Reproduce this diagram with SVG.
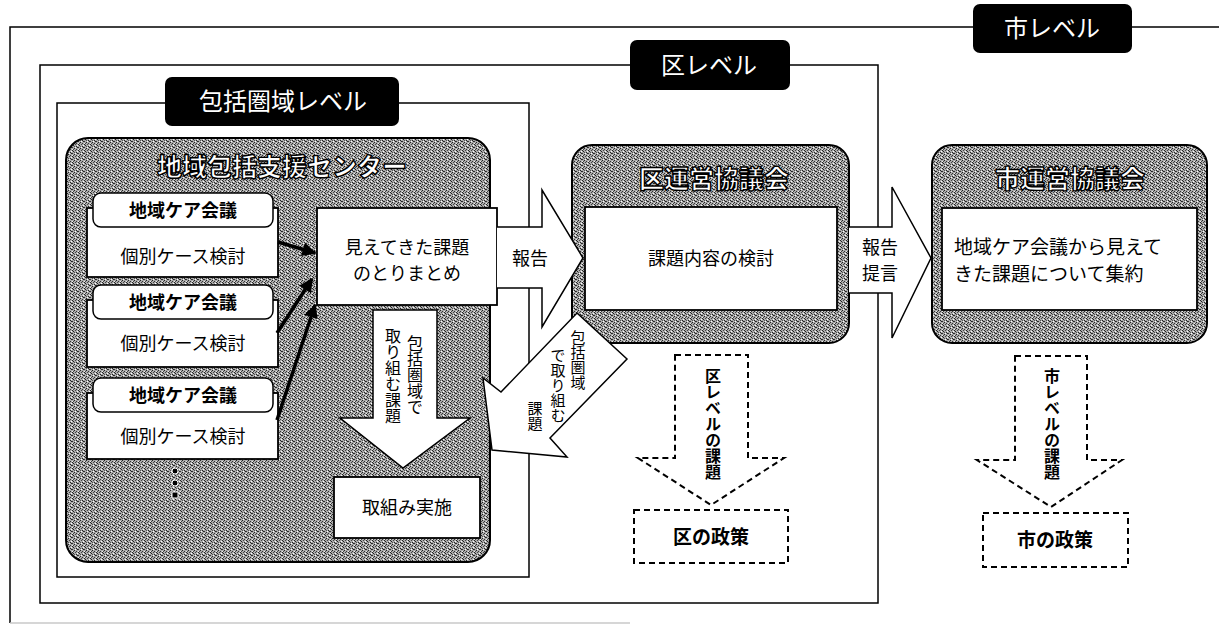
<svg xmlns="http://www.w3.org/2000/svg" width="1219" height="625" viewBox="0 0 1219 625">
<style>
text{font-family:"Noto Sans CJK JP","Noto Sans",sans-serif;fill:#000}
.frame{fill:none;stroke:#000;stroke-width:1.5}
.lbl{fill:#000}
.lbltxt{fill:#fff;font-size:24px;text-anchor:middle}
.shade{fill:url(#dither);stroke:#000;stroke-width:2}
.title{fill:#fff;stroke:#000;stroke-width:1.4;font-weight:900;font-size:25px;text-anchor:middle}
.box{fill:#fff;stroke:#000;stroke-width:1.8}
.hdr{fill:#fff;stroke:#000;stroke-width:1.5}
.t18{font-size:18px;text-anchor:middle}
.b18{font-size:18px;font-weight:bold;text-anchor:middle}
.arrowW{fill:#fff;stroke:#000;stroke-width:1.5;stroke-linejoin:miter}
.dash{fill:#fff;stroke:#000;stroke-width:2;stroke-dasharray:6 4}
.vt{writing-mode:vertical-rl;font-size:16px}
.vtb{writing-mode:vertical-rl;font-size:16px;font-weight:bold}
.con{stroke:#000;stroke-width:3.5;fill:none}
</style>
<defs>
<pattern id="dither" width="6" height="6" patternUnits="userSpaceOnUse">
<rect width="6" height="6" fill="#ababab"/>
<rect x="0" y="0" width="1" height="1" fill="#222"/>
<rect x="3" y="0" width="1" height="1" fill="#444"/>
<rect x="1" y="1" width="1" height="1" fill="#222"/>
<rect x="4" y="2" width="1" height="1" fill="#222"/>
<rect x="2" y="2" width="1" height="1" fill="#555"/>
<rect x="0" y="3" width="1" height="1" fill="#333"/>
<rect x="5" y="3" width="1" height="1" fill="#222"/>
<rect x="2" y="4" width="1" height="1" fill="#222"/>
<rect x="4" y="5" width="1" height="1" fill="#333"/>
<rect x="1" y="5" width="1" height="1" fill="#444"/>
<rect x="5" y="1" width="1" height="1" fill="#fff"/>
<rect x="3" y="3" width="1" height="1" fill="#fff"/>
<rect x="0" y="5" width="1" height="1" fill="#eee"/>
</pattern>
<marker id="ah" viewBox="0 0 10 10" refX="9" refY="5" markerWidth="4" markerHeight="4" orient="auto" markerUnits="strokeWidth">
<path d="M0,0 L10,5 L0,10 Z" fill="#000"/>
</marker>
</defs>

<!-- level frames -->
<g id="frame-city">
<path class="frame" d="M1219,27 H10 V623"/>
<path d="M10,623 H630" fill="none" stroke="#c8c8c8" stroke-width="1.5"/>
<rect class="lbl" x="973" y="4" width="159" height="49" rx="7"/>
<text class="lbltxt" x="1052" y="37">市レベル</text>
</g>
<g id="frame-ward">
<rect class="frame" x="40" y="65" width="838" height="538"/>
<rect class="lbl" x="630" y="40" width="160" height="50" rx="7"/>
<text class="lbltxt" x="709" y="74">区レベル</text>
</g>
<g id="frame-area">
<rect class="frame" x="57" y="103" width="472" height="474"/>
<rect class="lbl" x="165" y="77" width="234" height="49" rx="7"/>
<text class="lbltxt" x="283" y="110">包括圏域レベル</text>
</g>

<!-- 地域包括支援センター -->
<g id="center">
<rect class="shade" x="66" y="138" width="424" height="424" rx="22"/>
<text class="title" x="282" y="176">地域包括支援センター</text>
</g>

<g id="care1">
<rect class="box" x="87" y="208" width="191" height="69"/>
<rect class="hdr" x="93" y="193" width="180" height="34" rx="8"/>
<text class="b18" x="183" y="217">地域ケア会議</text>
<text class="t18" x="183" y="263">個別ケース検討</text>
</g>
<g id="care2">
<rect class="box" x="87" y="300" width="191" height="67"/>
<rect class="hdr" x="93" y="285" width="180" height="34" rx="8"/>
<text class="b18" x="183" y="309">地域ケア会議</text>
<text class="t18" x="183" y="350">個別ケース検討</text>
</g>
<g id="care3">
<rect class="box" x="87" y="393" width="191" height="66"/>
<rect class="hdr" x="93" y="378" width="180" height="34" rx="8"/>
<text class="b18" x="183" y="402">地域ケア会議</text>
<text class="t18" x="183" y="443">個別ケース検討</text>
</g>
<g id="dots">
<circle cx="175" cy="471" r="3" fill="#000" stroke="#fff" stroke-width="1"/>
<circle cx="175" cy="483" r="3" fill="#000" stroke="#fff" stroke-width="1"/>
<rect x="172" y="492" width="6" height="6" fill="#000" stroke="#fff" stroke-width="1"/>
</g>

<g id="summary">
<rect class="box" x="317" y="208" width="180" height="97"/>
<text class="t18" x="407" y="254">見えてきた課題</text>
<text class="t18" x="407" y="280">のとりまとめ</text>
</g>

<g id="implement">
<rect class="box" x="334" y="477" width="146" height="61"/>
<text class="t18" x="407" y="514">取組み実施</text>
</g>

<!-- 区運営協議会 -->
<g id="ward-council">
<rect class="shade" x="572" y="145" width="277" height="198" rx="20"/>
<text class="title" x="714" y="188">区運営協議会</text>
<rect class="box" x="585" y="207" width="252" height="103"/>
<text class="t18" x="711" y="265">課題内容の検討</text>
</g>

<!-- 市運営協議会 -->
<g id="city-council">
<rect class="shade" x="932" y="145" width="275" height="198" rx="20"/>
<text class="title" x="1070" y="188">市運営協議会</text>
<rect class="box" x="942" y="208" width="255" height="102"/>
<text x="954" y="254" style="font-size:19px">地域ケア会議から見えて</text>
<text x="954" y="281" style="font-size:19px">きた課題について集約</text>
</g>

<g id="connectors">
<line class="con" x1="278" y1="242" x2="315" y2="253" marker-end="url(#ah)"/>
<line class="con" x1="277" y1="333" x2="312" y2="279" marker-end="url(#ah)"/>
<line class="con" x1="277" y1="420" x2="315" y2="305" marker-end="url(#ah)"/>
</g>

<g id="arrow-report">
<path class="arrowW" d="M497,227 H542 V190 L583,258 L542,327 V288 H497"/>
<text class="t18" x="530" y="265">報告</text>
</g>

<g id="arrow-report2">
<path class="arrowW" d="M849,227 H892 V187 L931,258 L892,338 V293 H849"/>
<text class="t18" x="880" y="254">報告</text>
<text class="t18" x="880" y="280">提言</text>
</g>

<g id="arrow-down-area">
<path class="arrowW" d="M373,310 H437 V418 H470 L403,468 L340,418 H373 Z"/>
<text class="vt" x="415" y="335">包括圏域で</text>
<text class="vt" x="393" y="328">取り組む課題</text>
</g>

<g id="arrow-back">
<path class="arrowW" d="M577,313 L627,359 L550,438 L567,457 L492,450 L483,378 L501,392 Z"/>
<text class="vt" x="578" y="330" style="font-size:15px">包括圏域</text>
<text class="vt" x="558" y="348" style="font-size:15px">で取り組む</text>
<text class="vt" x="535" y="401" style="font-size:15px">課題</text>
</g>

<g id="arrow-ward-issue">
<path class="dash" d="M675,355 H748 V458 H784 L711,505 L638,458 H675 Z"/>
<text class="vtb" x="713" y="368">区レベルの課題</text>
</g>
<g id="ward-policy">
<rect class="dash" x="634" y="510" width="154" height="53"/>
<text class="b18" x="711" y="544" style="font-size:19px">区の政策</text>
</g>

<g id="arrow-city-issue">
<path class="dash" d="M1015,356 H1087 V460 H1122 L1051,507 L977,460 H1015 Z"/>
<text class="vtb" x="1052" y="368">市レベルの課題</text>
</g>
<g id="city-policy">
<rect class="dash" x="983" y="513" width="145" height="54"/>
<text class="b18" x="1055" y="547" style="font-size:19px">市の政策</text>
</g>
</svg>
